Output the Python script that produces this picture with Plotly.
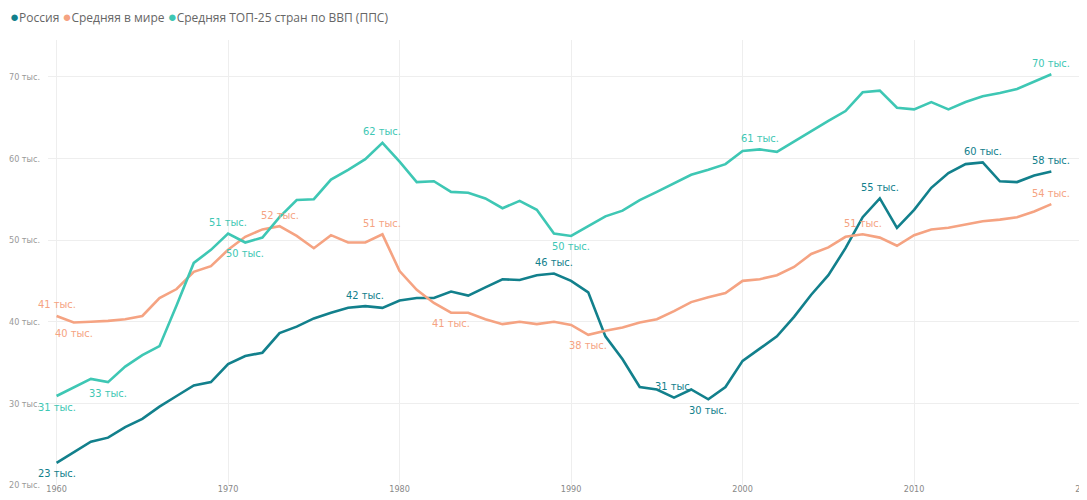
import plotly.graph_objects as go

years = list(range(1960, 2019))

russia = [22.7, 24.0, 25.3, 25.8, 27.1, 28.1, 29.6, 30.9, 32.2, 32.6,
          34.8, 35.8, 36.2, 38.6, 39.4, 40.4, 41.1, 41.7, 41.9, 41.7,
          42.6, 42.9, 42.9, 43.7, 43.2, 44.2, 45.2, 45.1, 45.7, 45.9,
          45.0, 43.6, 38.2, 35.4, 32.0, 31.7, 30.7, 31.7, 30.5, 32.0,
          35.2, 36.7, 38.2, 40.6, 43.3, 45.7, 49.0, 52.8, 55.1, 51.5,
          53.7, 56.4, 58.2, 59.3, 59.5, 57.2, 57.1, 57.9, 58.4]

world = [40.7, 39.9, 40.0, 40.1, 40.3, 40.7, 42.9, 44.0, 46.1, 46.8,
         48.8, 50.4, 51.3, 51.7, 50.5, 49.0, 50.6, 49.7, 49.7, 50.7,
         46.2, 43.9, 42.3, 41.1, 41.1, 40.3, 39.7, 40.0, 39.7, 40.0,
         39.6, 38.4, 38.9, 39.3, 39.9, 40.3, 41.3, 42.4, 43.0, 43.5,
         45.0, 45.2, 45.7, 46.7, 48.3, 49.1, 50.4, 50.7, 50.3, 49.3,
         50.6, 51.3, 51.5, 51.9, 52.3, 52.5, 52.8, 53.5, 54.4]

top25 = [30.9, 31.9, 33.0, 32.6, 34.5, 35.9, 37.0, 42.0, 47.2, 48.8,
         50.8, 49.7, 50.3, 52.8, 54.9, 55.0, 57.4, 58.6, 59.9, 61.9,
         59.6, 57.1, 57.2, 55.9, 55.8, 55.1, 53.9, 54.8, 53.7, 50.8,
         50.5, 51.7, 52.9, 53.6, 54.9, 55.9, 57.0, 58.0, 58.6, 59.3,
         60.9, 61.1, 60.8, 62.1, 63.4, 64.6, 65.8, 68.1, 68.3, 66.2,
         66.0, 66.9, 66.0, 66.9, 67.6, 68.0, 68.5, 69.4, 70.3]

series_names = ["Россия", "Средняя в мире", "Средняя ТОП-25 стран по ВВП (ППС)"]
colors = ["#12808C", "#F5A382", "#3EC7B4"]

# data-label positions: (year, "above"/"below")
russia_labels = [(1960, "below"), (1978, "above"), (1989, "above"), (1996, "above"),
                 (1998, "below"), (2008, "above"), (2014, "above"), (2018, "above")]
world_labels = [(1960, "above"), (1961, "below"), (1973, "above"), (1979, "above"),
                (1983, "below"), (1991, "below"), (2007, "above"), (2018, "above")]
top25_labels = [(1960, "below"), (1963, "below"), (1970, "above"), (1971, "below"),
                (1979, "above"), (1990, "below"), (2001, "above"), (2018, "above")]

y_ticks = [20, 30, 40, 50, 60, 70]
y_tick_text = [f"{v} тыс." for v in y_ticks]
x_ticks = [1960, 1970, 1980, 1990, 2000, 2010, 2020]

label_font = "DejaVu Sans Condensed, Liberation Sans Narrow, Open Sans, sans-serif"

fig = go.Figure()
all_series = [russia, world, top25]
all_labels = [russia_labels, world_labels, top25_labels]

for name, vals, col in zip(series_names, all_series, colors):
    fig.add_trace(go.Scatter(x=years, y=vals, mode="lines", name=name,
                             line=dict(color=col, width=2.6), showlegend=False,
                             hovertemplate="%{x}: %{y:.1f} тыс.<extra>" + name + "</extra>"))

for name, vals, col, labs in zip(series_names, all_series, colors, all_labels):
    for yr, pos in labs:
        v = vals[years.index(yr)]
        fig.add_annotation(x=yr, y=v, text=f"{round(v):.0f} тыс.", showarrow=False,
                           yshift=11 if pos == "above" else -11,
                           font=dict(family=label_font, size=11, color=col))

# legend drawn as a single text line with coloured bullets
legend_parts = [f"<span style='color:{c};font-size:15px'>●</span>{n}" for n, c in zip(series_names, colors)]
fig.add_annotation(xref="paper", yref="paper", x=-0.0385, y=1.0, yshift=24,
                   xanchor="left", yanchor="middle", showarrow=False, align="left",
                   text=" ".join(legend_parts),
                   font=dict(family="Open Sans, Noto Sans, sans-serif", size=12, color="#666666"))

# the page body adds an 8px offset, so the figure is sized/margined to compensate
fig.update_layout(
    width=1079, height=492,
    margin=dict(l=40, r=0, t=32, b=15, autoexpand=False),
    paper_bgcolor="white", plot_bgcolor="white",
    showlegend=False,
    xaxis=dict(range=[1959.5, 2020.08], tickvals=x_ticks, showgrid=True, gridcolor="#EEEEEE",
               gridwidth=1, zeroline=False, showline=False, ticks="",
               ticklabelstandoff=-3, ticklabeloverflow="allow", automargin=False,
               tickfont=dict(family=label_font, size=9, color="#888888")),
    yaxis=dict(range=[20, 74.5], tickvals=y_ticks, ticktext=y_tick_text, showgrid=True,
               gridcolor="#EEEEEE", gridwidth=1, zeroline=False, showline=False, ticks="",
               ticklabelstandoff=7, automargin=False,
               tickfont=dict(family=label_font, size=9, color="#999999")),
)

fig.write_html("out.html")
